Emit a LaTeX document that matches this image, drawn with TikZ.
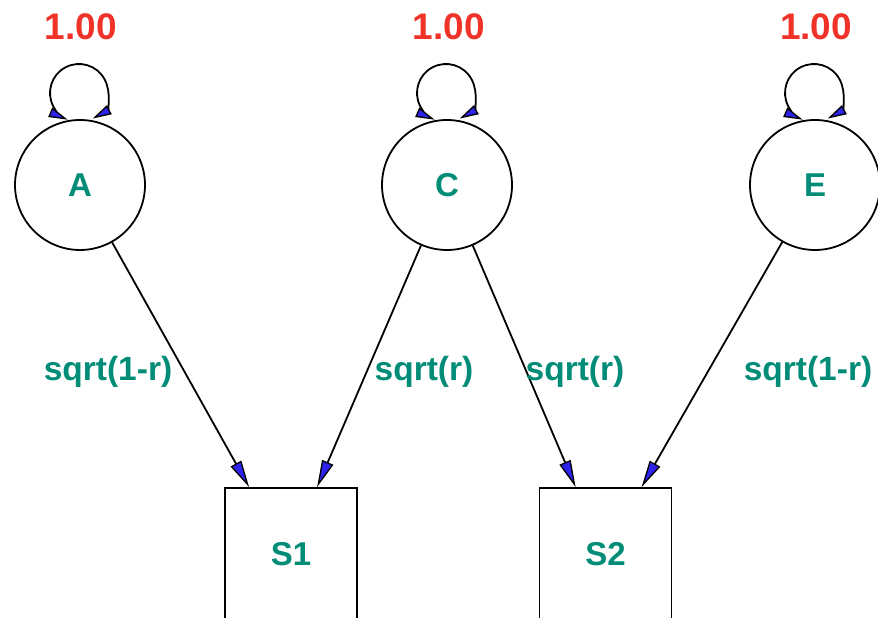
\documentclass[tikz,border=0pt]{standalone}
\usepackage{fontspec}
\setmainfont{Liberation Sans}
\usetikzlibrary{arrows.meta,calc}
\definecolor{teal1}{RGB}{0,140,118}
\definecolor{red1}{RGB}{240,50,40}
\definecolor{tipblue}{RGB}{45,35,235}
\tikzset{
  latent/.style={circle,draw,line width=1.8pt,minimum size=130pt,inner sep=0pt,text=teal1,font=\fontsize{33}{33}\selectfont\bfseries},
  manifest/.style={rectangle,draw,line width=1.8pt,minimum width=132pt,minimum height=132pt,inner sep=0pt,text=teal1,font=\fontsize{33}{33}\selectfont\bfseries},
  varlab/.style={text=red1,font=\fontsize{37}{37}\selectfont\bfseries},
  pathlab/.style={text=teal1,font=\fontsize{33.5}{33.5}\selectfont\bfseries},
  bigtip/.tip={Triangle[length=27pt,width=12pt,line width=1.3pt,fill=tipblue]},
  smalltip/.tip={Triangle[length=19pt,width=10pt,line width=1.3pt,fill=tipblue]},
  edge/.style={draw,line width=1.8pt,-{bigtip[black]}},
  loopline/.style={draw,line width=1.8pt,{smalltip[black]}-{smalltip[black]}},
}
\begin{document}
\begin{tikzpicture}[x=1pt,y=1pt]
\clip (0,0) rectangle (878,618);
\useasboundingbox (0,0) rectangle (878,618);
\node[latent] (A) at (80,433) {A};
\node[latent] (C) at (447,433) {C};
\node[latent] (E) at (815,433) {E};
\node[manifest] (S1) at (291,64) {S1};
\node[manifest] (S2) at (605.5,64) {S2};
\node[varlab] (vA) at (81,591) {1.00};
\node[varlab] (vC) at (449,591) {1.00};
\node[varlab] (vE) at (816,591) {1.00};
\foreach \n in {A,C,E}{
  \coordinate (l\n) at ($(\n)+(-1,92)$);
  \draw[loopline] ($(l\n)+(-62:29)$) arc[start angle=-62,end angle=247,radius=29];
}
\draw[edge] (A) -- ([xshift=25pt]S1.north west);
\draw[edge] (C) -- ([xshift=93pt]S1.north west);
\draw[edge] (C) -- ([xshift=37pt]S2.north west);
\draw[edge] (E) -- ([xshift=103pt]S2.north west);
\node[pathlab] (p1) at (108,246) {sqrt(1-r)};
\node[pathlab] (p2) at (424,246) {sqrt(r)};
\node[pathlab] (p3) at (575,246) {sqrt(r)};
\node[pathlab] (p4) at (808,246) {sqrt(1-r)};
\end{tikzpicture}
\end{document}
